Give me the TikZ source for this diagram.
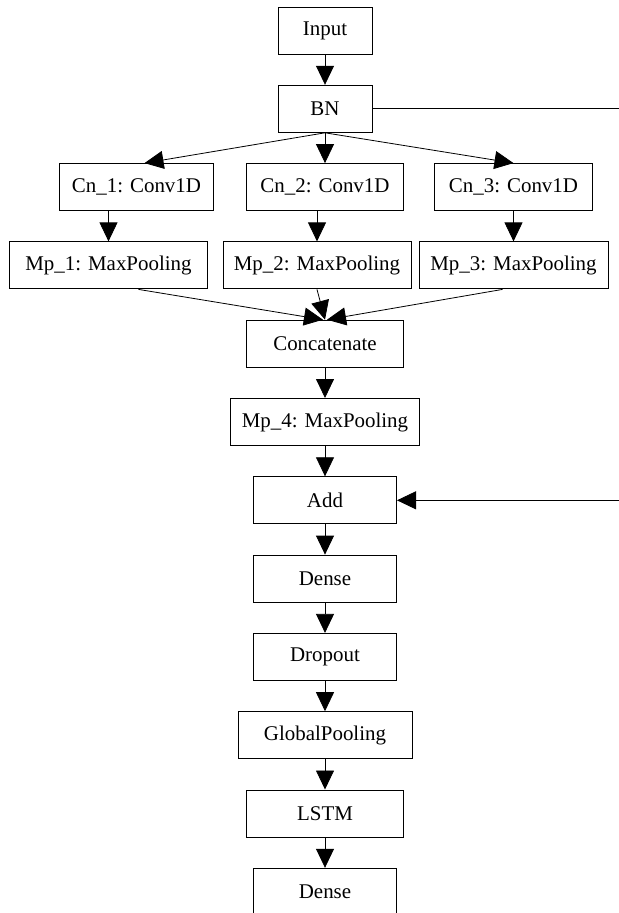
\documentclass[tikz,border=0pt]{standalone}
\usepackage{fontspec}
\setmainfont{Liberation Serif}
\usetikzlibrary{positioning}
\usetikzlibrary{arrows.meta}

\begin{document}
\begin{tikzpicture}[x=1bp, y=1bp, node distance=30.3bp,
    layer/.style={draw, line width=1bp, minimum height=47bp, inner sep=0pt, font=\fontsize{21}{24}\selectfont},
    flow/.style={-{Triangle[width=18bp,length=19bp]}, line width=0.8bp}]
  \useasboundingbox (0,0) rectangle (619,-913);
  \clip (0,0) rectangle (619,-913);
  % main column
  \node[layer, minimum width=94bp] (input) at (325,-30.5) {Input};
  \node[layer, minimum width=94bp, below=of input] (bn) {BN};
  % three conv branches
  \node[layer, minimum width=157bp, below=of bn] (cn2) {Cn\_2: Conv1D};
  \node[layer, minimum width=154bp, left=32bp of cn2] (cn1) {Cn\_1: Conv1D};
  \node[layer, minimum width=158bp, right=30bp of cn2] (cn3) {Cn\_3: Conv1D};
  \node[layer, minimum width=188bp, below=of cn2, xshift=-8bp] (mp2) {Mp\_2: MaxPooling};
  \node[layer, minimum width=197bp, left=15bp of mp2] (mp1) {Mp\_1: MaxPooling};
  \node[layer, minimum width=189bp, right=7bp of mp2] (mp3) {Mp\_3: MaxPooling};
  % merged part
  \node[layer, minimum width=157bp, below=of mp2, xshift=8bp] (concat) {Concatenate};
  \node[layer, minimum width=189bp, below=of concat] (mp4) {Mp\_4: MaxPooling};
  \node[layer, minimum width=143bp, below=of mp4] (add) {Add};
  \node[layer, minimum width=143bp, below=of add] (dense1) {Dense};
  \node[layer, minimum width=143bp, below=of dense1] (drop) {Dropout};
  \node[layer, minimum width=174bp, below=of drop] (gpool) {GlobalPooling};
  \node[layer, minimum width=157bp, below=of gpool] (lstm) {LSTM};
  \node[layer, minimum width=143bp, below=of lstm] (dense2) {Dense};
  % skip connection ends
  \coordinate (skipout) at ([xshift=247bp]bn.east);
  \coordinate (skipin) at ([xshift=223bp]add.east);

  \draw[flow] (input) -- (bn);
  \draw[flow] (bn.south) -- ([xshift=8bp]cn1.north);
  \draw[flow] (bn.south) -- (cn2.north);
  \draw[flow] (bn.south) -- (cn3.north);
  \draw[flow] (mp1.north |- cn1.south) -- (mp1.north);
  \draw[flow] (mp2.north |- cn2.south) -- (mp2.north);
  \draw[flow] (mp3.north |- cn3.south) -- (mp3.north);
  \draw[flow] ([xshift=30bp]mp1.south) -- ([xshift=-2bp]concat.north);
  \draw[flow] (mp2.south) -- (concat.north);
  \draw[flow] ([xshift=-11bp]mp3.south) -- ([xshift=2bp]concat.north);
  \draw[flow] (concat) -- (mp4);
  \draw[flow] (mp4) -- (add);
  \draw[flow] (add) -- (dense1);
  \draw[flow] (dense1) -- (drop);
  \draw[flow] (drop) -- (gpool);
  \draw[flow] (gpool) -- (lstm);
  \draw[flow] (lstm) -- (dense2);
  \draw[line width=0.8bp] (bn.east) -- (skipout);
  \draw[flow] (skipin) -- (add.east);
\end{tikzpicture}
\end{document}
